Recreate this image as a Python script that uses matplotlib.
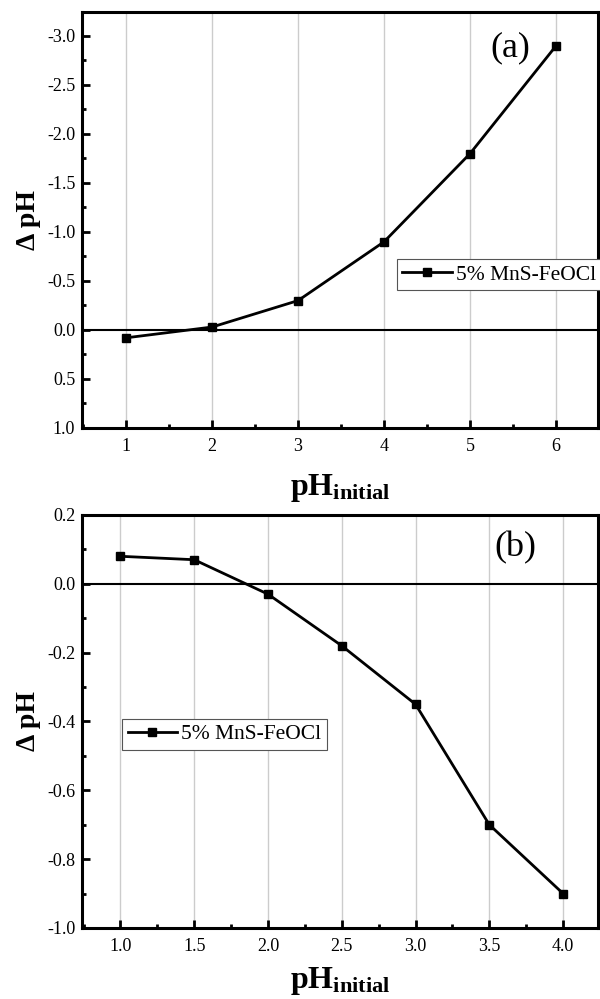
import matplotlib
matplotlib.use("Agg")
import matplotlib.pyplot as plt
from matplotlib.ticker import MultipleLocator, FormatStrFormatter

plt.rcParams['font.family'] = ['Liberation Serif', 'DejaVu Serif']
plt.rcParams['mathtext.fontset'] = 'custom'
plt.rcParams['mathtext.rm'] = 'Liberation Serif'
plt.rcParams['mathtext.bf'] = 'Liberation Serif:bold'

# Panel (a)
xa = [1, 2, 3, 4, 5, 6]
ya = [0.08, -0.03, -0.30, -0.90, -1.80, -2.90]
# Panel (b)
xb = [1.0, 1.5, 2.0, 2.5, 3.0, 3.5, 4.0]
yb = [0.08, 0.07, -0.03, -0.18, -0.35, -0.70, -0.90]
series_label = "5% MnS-FeOCl"

fig = plt.figure(figsize=(6.0, 9.99), dpi=100)
axa = fig.add_axes([0.137, 0.5716, 0.86, 0.4164])
axb = fig.add_axes([0.137, 0.0711, 0.86, 0.4134])

def style(ax, xlab_y):
    for s in ax.spines.values():
        s.set_linewidth(2.2)
    ax.tick_params(which='both', direction='in', top=False, right=False,
                   labelsize=13, width=2)
    ax.tick_params(axis='x', which='major', pad=7)
    ax.tick_params(axis='y', which='major', pad=5)
    ax.tick_params(which='major', length=6)
    ax.tick_params(which='minor', length=3)
    ax.xaxis.grid(True, which='major', color='#cccccc', linewidth=1.0)
    ax.set_axisbelow(True)
    ax.axhline(0, color='black', linewidth=1.5, zorder=2)
    ax.set_xlabel(r'$\mathbf{pH_{initial}}$', fontsize=23, va='center')
    ax.xaxis.set_label_coords(0.5, xlab_y)
    ax.set_ylabel('Δ pH', fontsize=20, fontweight='bold', va='center')
    ax.yaxis.set_label_coords(-0.105, 0.5)

def legend(ax, anchor):
    leg = ax.legend(loc='upper left', bbox_to_anchor=anchor, fontsize=15.5,
                    fancybox=False, edgecolor='#555555', framealpha=1, borderpad=0.25,
                    handlelength=2.3, handletextpad=0.2, borderaxespad=0)
    leg.get_frame().set_linewidth(0.8)

# (a)
axa.plot(xa, ya, '-s', color='black', linewidth=2, markersize=6, label=series_label, zorder=3)
axa.set_xlim(0.49, 6.49)
axa.set_ylim(1.0, -3.245)
axa.xaxis.set_major_locator(MultipleLocator(1))
axa.xaxis.set_minor_locator(MultipleLocator(0.5))
axa.yaxis.set_major_locator(MultipleLocator(0.5))
axa.yaxis.set_minor_locator(MultipleLocator(0.25))
axa.yaxis.set_major_formatter(FormatStrFormatter('%.1f'))
style(axa, -0.145)
axa.text(0.83, 0.913, '(a)', transform=axa.transAxes, fontsize=26, ha='center', va='center')
legend(axa, (0.610, 0.406))

# (b)
axb.plot(xb, yb, '-s', color='black', linewidth=2, markersize=6, label=series_label, zorder=3)
axb.set_xlim(0.741, 4.238)
axb.set_ylim(-1.0, 0.2)
axb.xaxis.set_major_locator(MultipleLocator(0.5))
axb.xaxis.set_minor_locator(MultipleLocator(0.25))
axb.yaxis.set_major_locator(MultipleLocator(0.2))
axb.yaxis.set_minor_locator(MultipleLocator(0.1))
axb.xaxis.set_major_formatter(FormatStrFormatter('%.1f'))
axb.yaxis.set_major_formatter(FormatStrFormatter('%.1f'))
style(axb, -0.128)
axb.text(0.839, 0.92, '(b)', transform=axb.transAxes, fontsize=26, ha='center', va='center')
legend(axb, (0.0775, 0.506))

fig.savefig('out.png', dpi=100)
